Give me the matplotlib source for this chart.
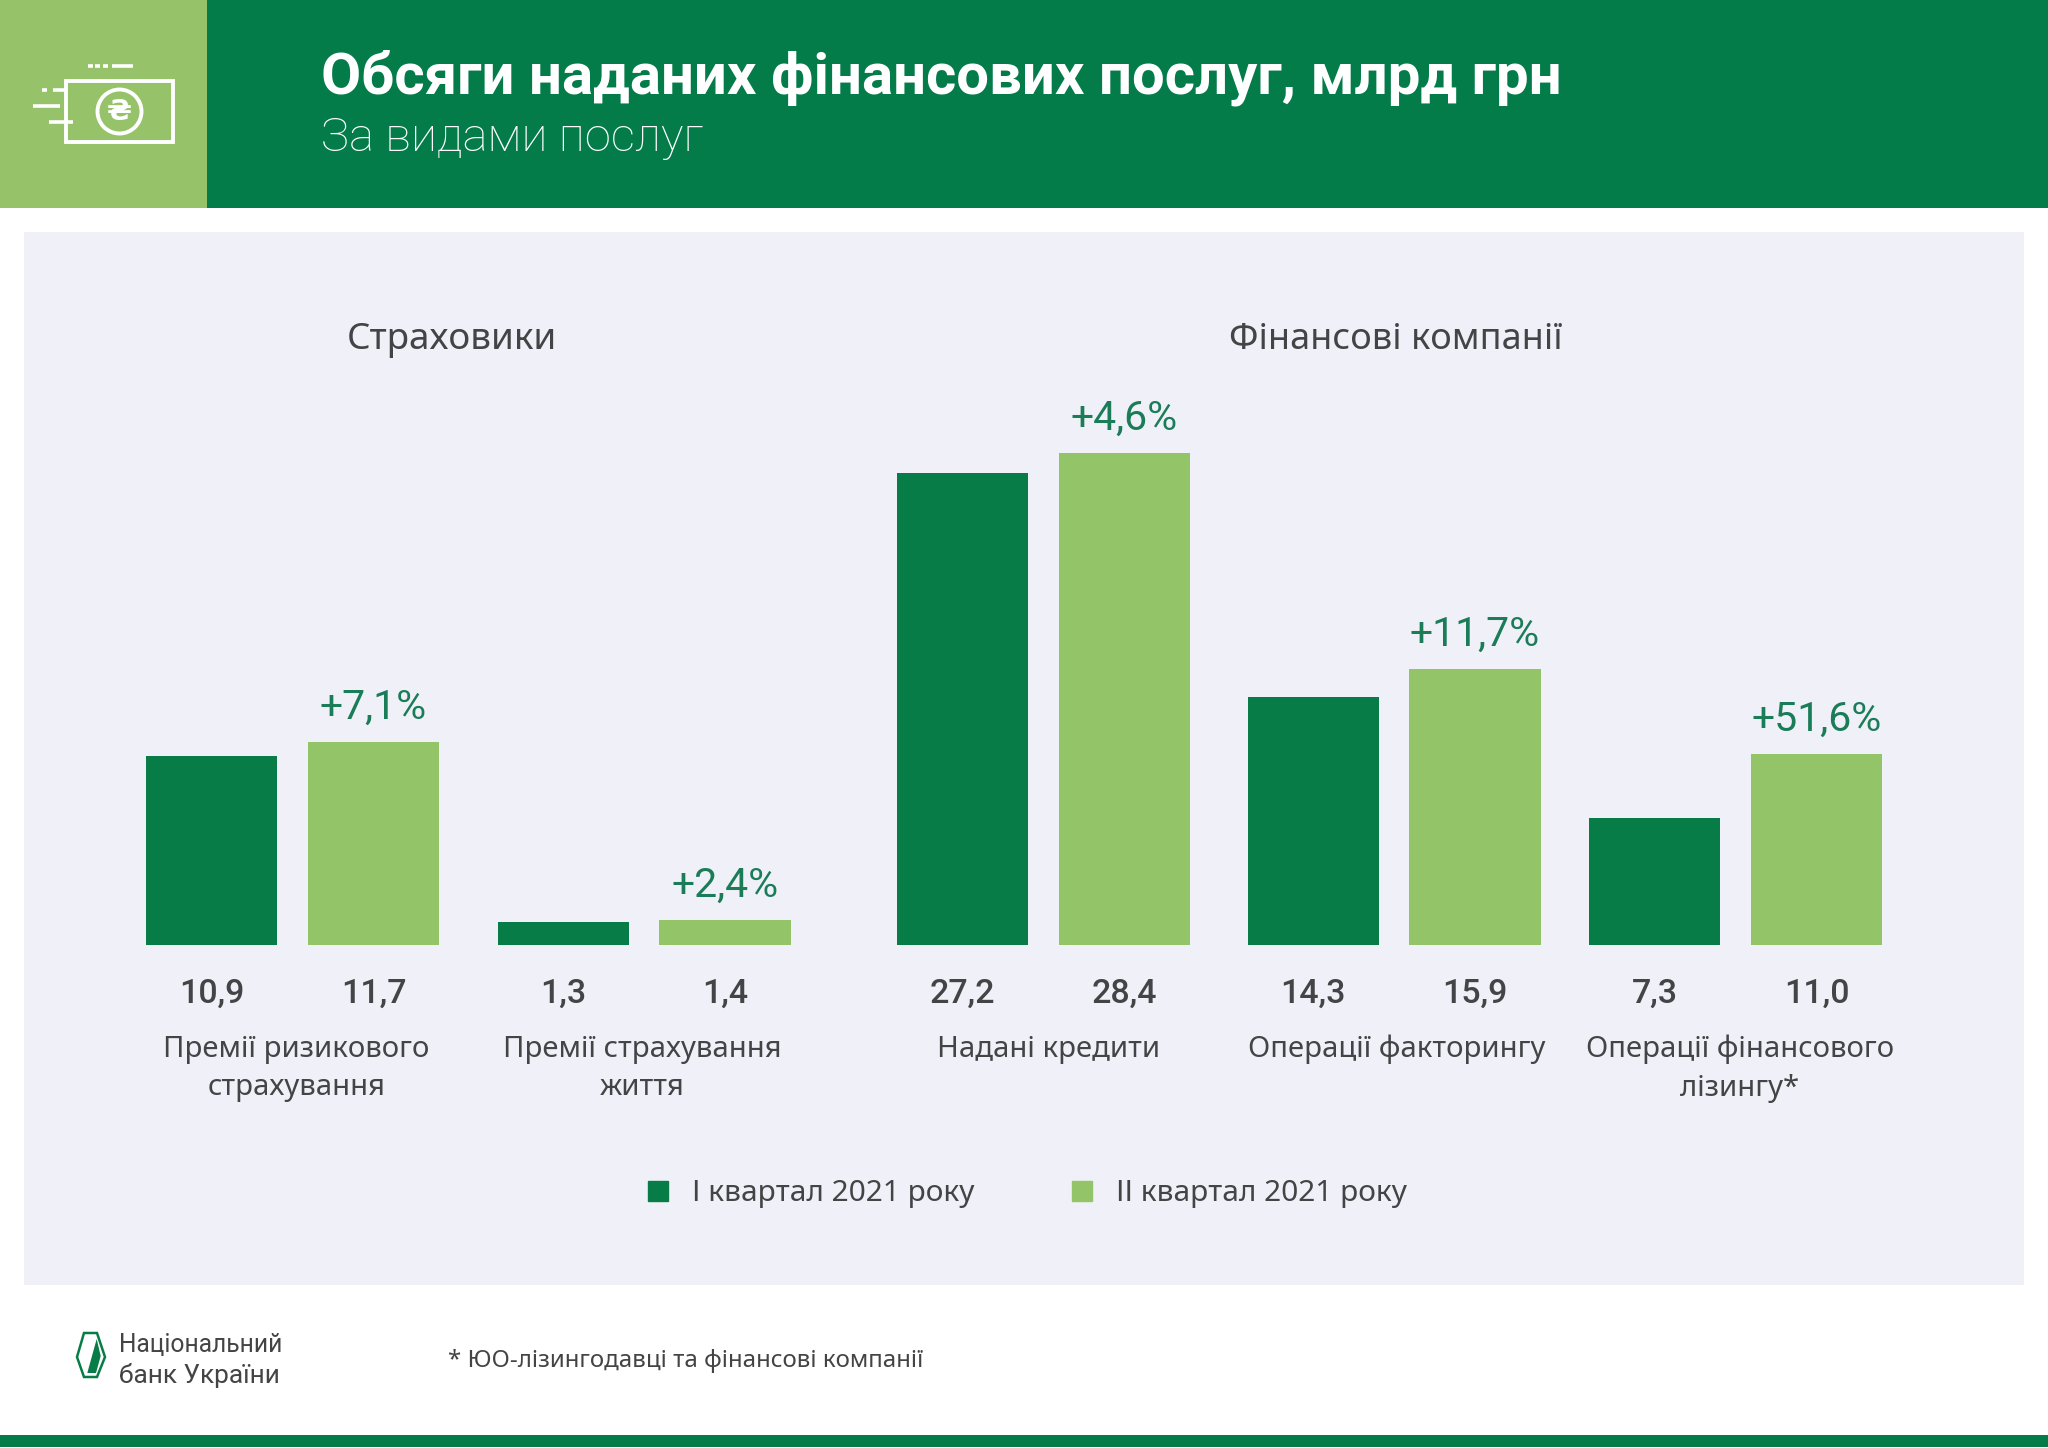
import matplotlib
matplotlib.use("Agg")
import matplotlib.pyplot as plt
from matplotlib.patches import Rectangle, Circle, Polygon
from matplotlib.lines import Line2D

plt.rcParams['font.family'] = ['Noto Sans', 'DejaVu Sans']

categories = ["Премії ризикового\nстрахування", "Премії страхування\nжиття", "Надані кредити",
              "Операції факторингу", "Операції фінансового\nлізингу*"]
q1_values = [10.9, 1.3, 27.2, 14.3, 7.3]
q2_values = [11.7, 1.4, 28.4, 15.9, 11.0]
q1_labels = ["10,9", "1,3", "27,2", "14,3", "7,3"]
q2_labels = ["11,7", "1,4", "28,4", "15,9", "11,0"]
changes = ["+7,1%", "+2,4%", "+4,6%", "+11,7%", "+51,6%"]
series_names = ["І квартал 2021 року", "ІІ квартал 2021 року"]

W, H = 2048, 1448
DARK, LIGHT = "#077C47", "#93C568"
HEAD_DARK, HEAD_LIGHT = "#047C4A", "#96C36A"
PANEL, TEXT = "#F0F1F8", "#444446"
CHANGE_C = "#1B7C58"
group_left = [146, 497.5, 897, 1247.5, 1589]
label_shift = [3, -1, 4, 2, 3]
group_w, bar_w, base_y, plot_h, y_max = 293, 0.81, 944.5, 500, 28.87

fig = plt.figure(figsize=(W / 100, H / 100), dpi=100, facecolor="white")
bg = fig.add_axes([0, 0, 1, 1], zorder=0)
bg.set_xlim(0, W); bg.set_ylim(H, 0); bg.axis("off")

for (x, y, w, h, c) in [(0, 0, W, 208, HEAD_DARK), (0, 0, 207, 208, HEAD_LIGHT),
                        (24, 232, 2000, 1053, PANEL), (0, 1435, W, 12, HEAD_DARK)]:
    bg.add_patch(Rectangle((x, y), w, h, fc=c, ec="none"))

# header icon
ic = dict(color="white", lw=2.6, solid_capstyle="butt")
bg.add_patch(Rectangle((66, 81), 107, 61, fc="none", ec="white", lw=2.8))
bg.add_patch(Circle((119.5, 111.5), 22, fc="none", ec="white", lw=2.8))
bg.text(119.5, 112, "₴", color="white", fontsize=21, fontweight="bold", ha="center", va="center",
        family="DejaVu Sans")
for x0, x1, y in [(88, 93, 65.5), (95, 100, 65.5), (103, 108, 65.5), (112, 133, 65.5),
                  (42, 47, 90), (53, 66, 90), (33, 60, 106), (49, 73, 122)]:
    bg.plot([x0, x1], [y, y], **ic)

# titles
bg.text(321, 78, "Обсяги наданих фінансових послуг, млрд грн", color="white", fontsize=41.9,
        fontweight="bold", ha="left", va="center", family=["Roboto", "DejaVu Sans"])
bg.text(321, 138, "За видами послуг", color="white", fontsize=34, fontweight="light",
        ha="left", va="center", family=["Roboto", "DejaVu Sans"])
bg.text(452, 340, "Страховики", color=TEXT, fontsize=26.5, ha="center", va="center")
bg.text(1396, 340, "Фінансові компанії", color=TEXT, fontsize=26, ha="center", va="center")

# bars: one small axes per service, all on the same value scale
for i, left in enumerate(group_left):
    ax = fig.add_axes([left / W, 1 - base_y / H, group_w / W, plot_h / H], zorder=2)
    ax.patch.set_visible(False)
    ax.bar([0, 1], [q1_values[i], q2_values[i]], width=bar_w, color=[DARK, LIGHT])
    ax.set_xlim(-bar_w / 2, 1 + bar_w / 2)
    ax.set_ylim(0, y_max)
    ax.set_yticks([])
    ax.set_xticks([0, 1], [q1_labels[i], q2_labels[i]])
    ax.tick_params(axis="x", length=0, pad=24, labelsize=24.5, labelcolor=TEXT)
    for lab in ax.get_xticklabels():
        lab.set_fontweight("medium")
        lab.set_family(["Roboto", "DejaVu Sans"])
    for s in ax.spines.values():
        s.set_visible(False)
    ax.annotate(changes[i], (1, q2_values[i]), xytext=(0, 25), textcoords="offset points",
                ha="center", va="center", color=CHANGE_C, fontsize=29.5, fontweight="normal",
                family=["Roboto", "DejaVu Sans"])
    ax.annotate(categories[i], (0.5, 0), xycoords="axes fraction", xytext=(label_shift[i], -65),
                textcoords="offset points", ha="center", va="top", color=TEXT, fontsize=21.1,
                linespacing=1.42)

# legend
handles = [Line2D([], [], ls="", marker="s", ms=15, color=DARK),
           Line2D([], [], ls="", marker="s", ms=15, color=LIGHT)]
leg = bg.legend(handles, series_names, loc="center left", bbox_to_anchor=(616 / W, 1 - 1194 / H),
                frameon=False, ncol=2, fontsize=21.5, columnspacing=3.1, handletextpad=0.64,
                labelcolor=TEXT, handlelength=1)

# footer
bg.add_patch(Polygon([(84, 1333), (97, 1333), (105, 1357), (97, 1377), (84, 1377), (77, 1357)],
                     closed=True, fc="white", ec=DARK, lw=1.8))
bg.add_patch(Polygon([(96.7, 1339), (100.7, 1356), (96, 1373), (87.3, 1373), (91.7, 1357)],
                     closed=True, fc=DARK, ec="none"))
logo_font = ["Roboto", "DejaVu Sans"]
bg.text(119, 1345, "Національний", color=TEXT, fontsize=17.7, ha="left", va="center", family=logo_font)
bg.text(119, 1376, "банк України", color=TEXT, fontsize=18.9, ha="left", va="center", family=logo_font)
bg.text(448, 1361, "* ЮО-лізингодавці та фінансові компанії", color=TEXT, fontsize=17.3,
        ha="left", va="center")

fig.savefig("out.png", dpi=100, facecolor="white")
